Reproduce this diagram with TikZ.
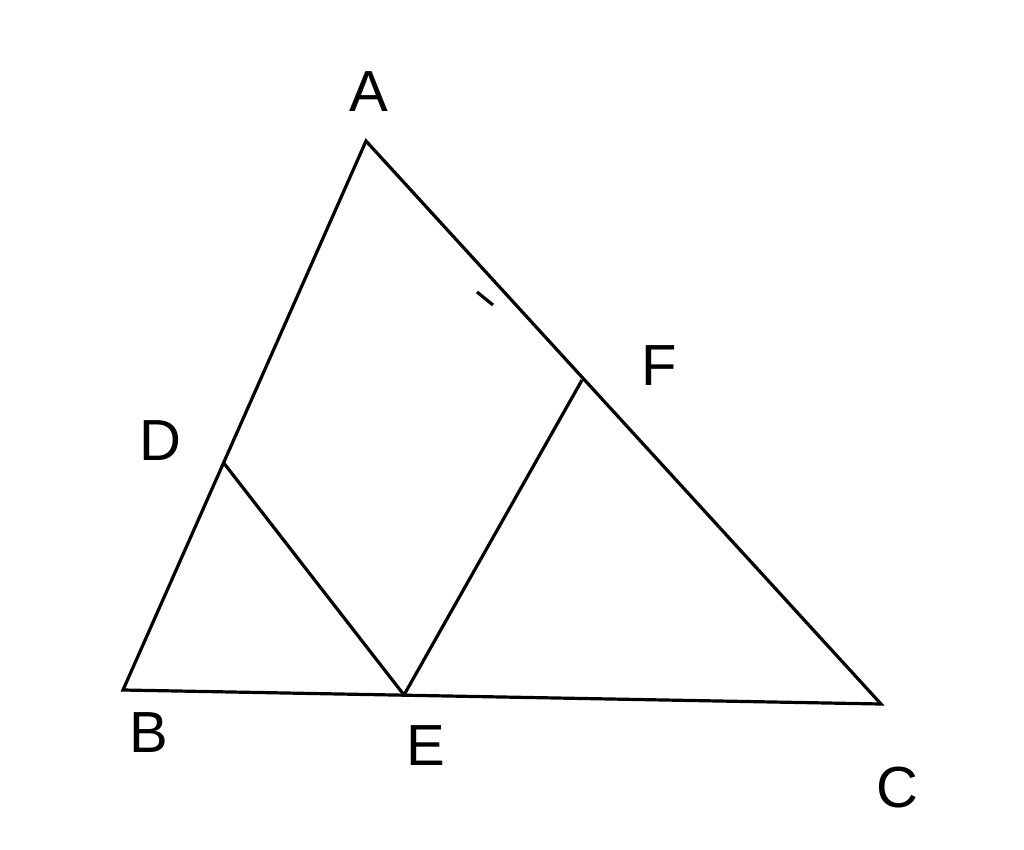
\documentclass[tikz,border=0pt]{standalone}
\usepackage{fontspec}
\setmainfont{Liberation Sans}
\usepackage{tikz}
\usetikzlibrary{positioning}
\tikzstyle{vnode} = [coordinate]
\tikzstyle{lbl} = [anchor=base, inner sep=0pt, font=\fontsize{58}{60}\selectfont]
\tikzstyle{line} = [draw, line width=3.2pt, line join=miter]

\begin{document}
\begin{tikzpicture}[x=1pt, y=-1pt]
			\useasboundingbox (0,0) rectangle (1024,850);
			\node [vnode] (A) at (366, 141) {};
			\node [vnode] (B) at (123, 690) {};
			\node [vnode] (C) at (881, 704) {};
			\node [vnode] (D) at (223, 462) {};
			\node [vnode] (E) at (404, 695) {};
			\node [vnode] (F) at (582, 380) {};
			\node [vnode] (t1) at (477, 292) {};
			\node [vnode] (t2) at (493, 305) {};
			
			\node [lbl] (la) at (369, 112) {A};
			\node [lbl] (lb) at (149, 752) {B};
			\node [lbl] (lc) at (897, 807) {C};
			\node [lbl] (ld) at (160, 460) {D};
			\node [lbl] (le) at (426, 765) {E};
			\node [lbl] (lf) at (659, 385) {F};
			
			\path [line] (A) -- (B) -- (C) -- cycle;
			\path [line] (D) -- (E);
			\path [line] (E) -- (F);
			\path [line] (t1) -- (t2);
		\end{tikzpicture}
\end{document}
